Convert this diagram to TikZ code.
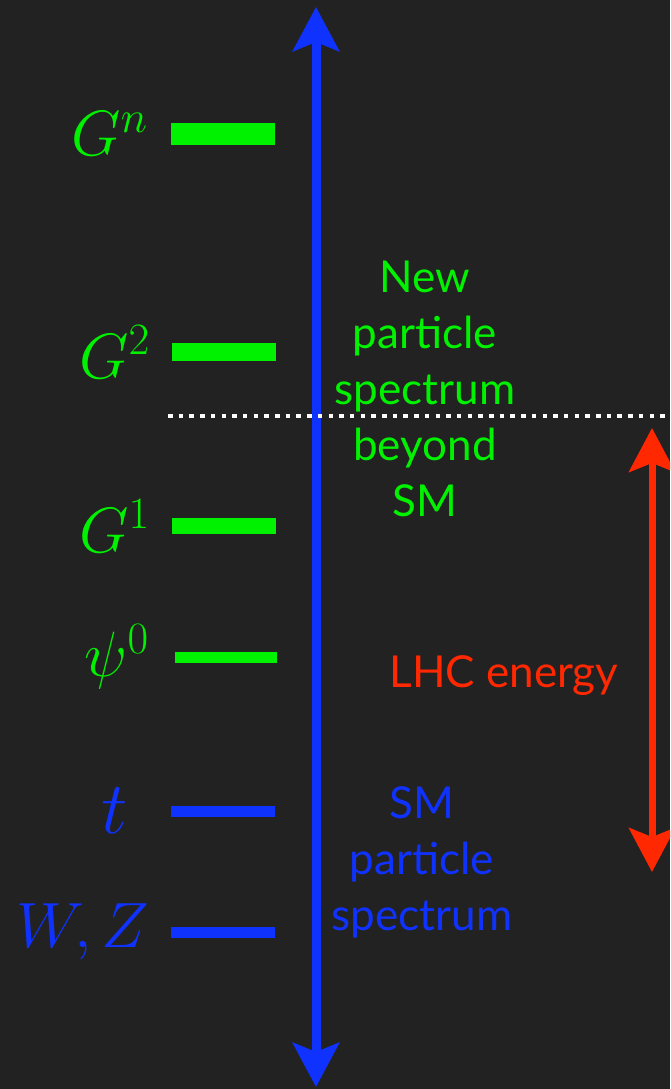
\RequirePackage{fix-cm}
\documentclass[tikz,border=0pt]{standalone}
\usepackage{fontspec}
\setsansfont{Lato}
\usetikzlibrary{arrows.meta,positioning}
\definecolor{bgdark}{RGB}{34,34,34}
\definecolor{newgreen}{RGB}{0,242,0}
\definecolor{smblue}{RGB}{16,50,255}
\definecolor{lhcred}{RGB}{255,40,0}
\tikzset{
  lvl/.style={fill=#1,draw=none,inner sep=0pt,minimum width=104pt},
  mlab/.style={text=#1,inner sep=0pt,anchor=east,font=\fontsize{64}{64}\selectfont},
  txt/.style={text=#1,align=center,inner sep=0pt,
    font=\sffamily\fontsize{44}{56}\selectfont},
  energy/.style={line width=9pt,draw=smblue,
    {Stealth[length=44pt,width=46pt,inset=9pt]}-{Stealth[length=44pt,width=46pt,inset=9pt]}},
  lhc/.style={line width=7pt,draw=lhcred,
    {Stealth[length=44pt,width=46pt,inset=9pt]}-{Stealth[length=44pt,width=46pt,inset=9pt]}},
  cut/.style={draw=white,line width=4pt,dash pattern=on 4.5pt off 6.2pt},
}
\begin{document}
\begin{tikzpicture}[x=1pt,y=-1pt]
\path[use as bounding box,clip] (0,0) rectangle (670,1089);
\fill[bgdark] (0,0) rectangle (670,1089);
% level bars
\node[lvl=newgreen,minimum height=21pt] (gn) at (223,134) {};
\node[lvl=newgreen,minimum height=18pt] (g2) at (224,352) {};
\node[lvl=newgreen,minimum height=16pt] (g1) at (224,526) {};
\node[lvl=newgreen,minimum height=11pt,minimum width=102pt] (psi) at (226,657) {};
\node[lvl=smblue,minimum height=11pt] (top) at (223,811) {};
\node[lvl=smblue,minimum height=11pt] (wz) at (223,932) {};
% labels
\node[mlab=newgreen,left=23pt of gn] {$G^n$};
\node[mlab=newgreen,left=22pt of g2] {$G^2$};
\node[mlab=newgreen,left=22pt of g1] {$G^1$};
\node[mlab=newgreen,left=26pt of psi] {$\psi^0$};
\node[mlab=smblue,left=43pt of top,font=\fontsize{74}{74}\selectfont] {$t$};
\node[mlab=smblue,left=21pt of wz] {$W,Z$};
% text
\node[txt=newgreen] (bsm) at (425,389) {New\\particle\\spectrum\\beyond\\SM};
\node[txt=smblue] (sm) at (422,862) {SM\\particle\\spectrum};
\node[txt=lhcred] (lhctxt) at (504,676) {LHC energy};
% arrows
\coordinate (etop) at (316,7);
\coordinate (ebot) at (316,1087);
\coordinate (ltop) at (652,428);
\coordinate (lbot) at (652,872);
\coordinate (cl) at (168,416);
\coordinate (cr) at (670,416);
\draw[energy] (ebot) -- (etop);
\draw[cut] (cl) -- (cr);
\draw[lhc] (lbot) -- (ltop);
\end{tikzpicture}
\end{document}
